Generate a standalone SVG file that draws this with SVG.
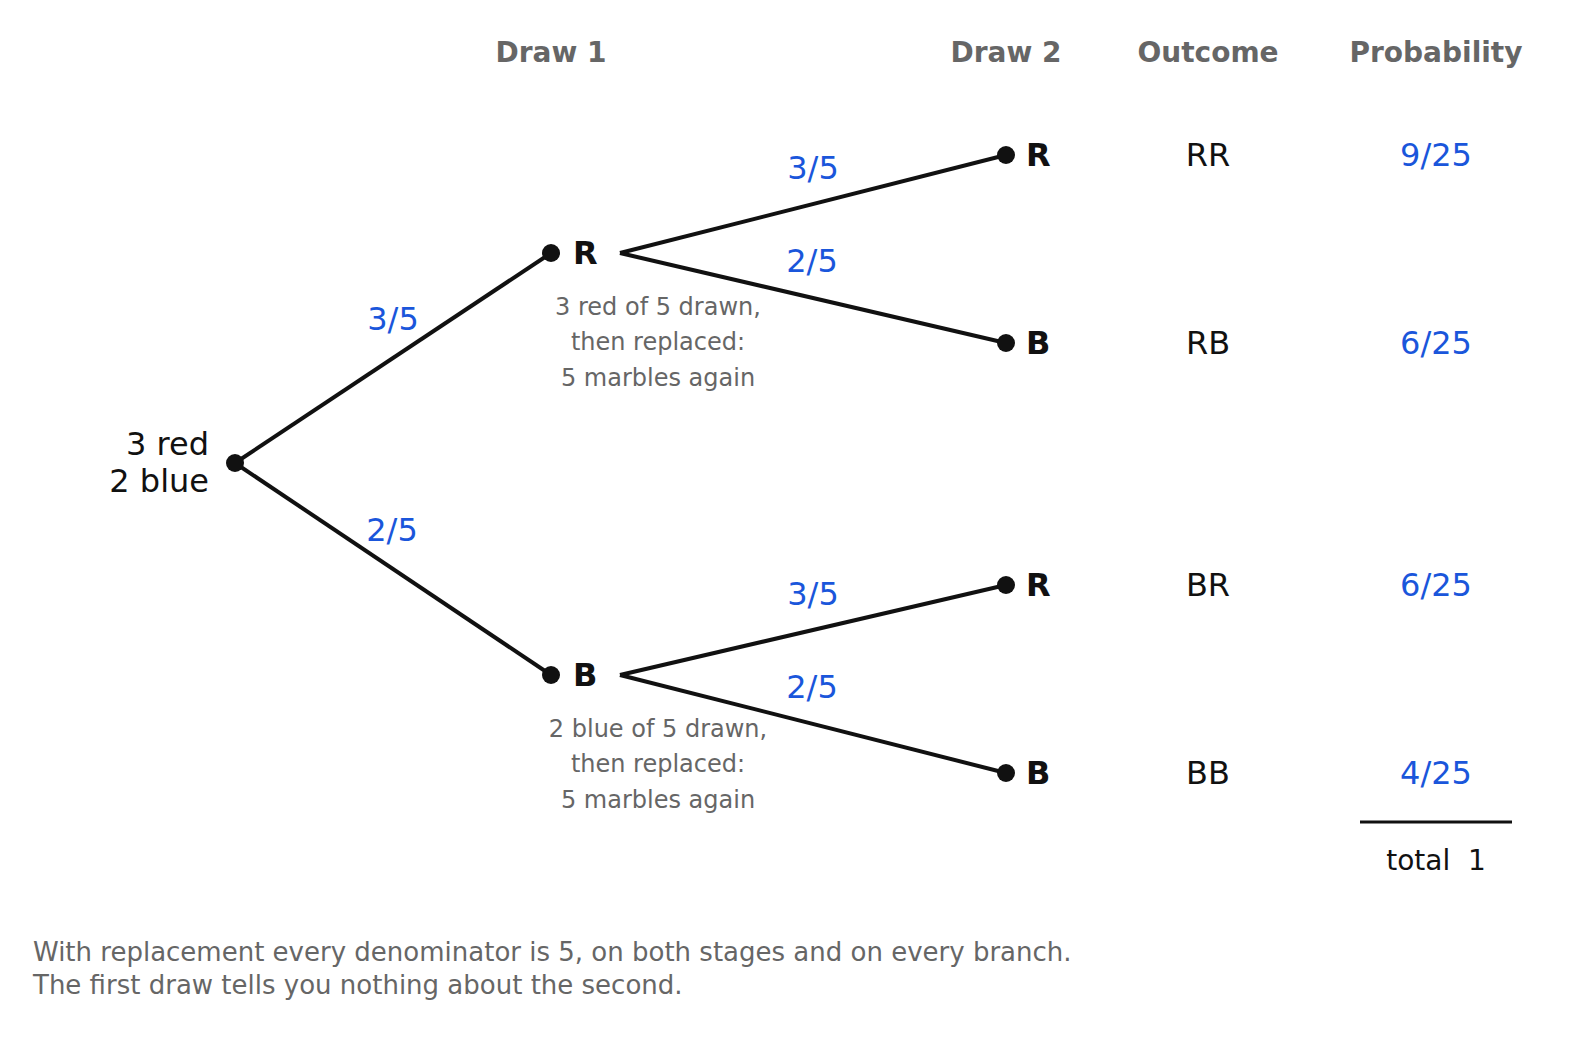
<svg xmlns="http://www.w3.org/2000/svg" width="1589" height="1056" viewBox="0 0 1589 1056">
<style>
text{font-family:"DejaVu Sans",sans-serif}
.h{font-size:28px;font-weight:bold;fill:#666;text-anchor:middle}
.p{font-size:32px;fill:#1a56db;text-anchor:middle}
.n{font-size:32px;font-weight:bold;fill:#111}
.g{font-size:24px;fill:#666;text-anchor:middle}
.o{font-size:32px;fill:#111;text-anchor:middle}
.e{stroke:#111;stroke-width:4;fill:none}
</style>
<rect width="1589" height="1056" fill="#fff"/>
<g id="headers">
<text class="h" x="551" y="62">Draw 1</text>
<text class="h" x="1006" y="62">Draw 2</text>
<text class="h" x="1208" y="62">Outcome</text>
<text class="h" x="1436" y="62">Probability</text>
</g>
<g id="connectors">
<line class="e" x1="235" y1="463" x2="551" y2="253"/>
<line class="e" x1="235" y1="463" x2="551" y2="675"/>
<line class="e" x1="620" y1="253" x2="1006" y2="155"/>
<line class="e" x1="620" y1="253" x2="1006" y2="343"/>
<line class="e" x1="620" y1="675" x2="1006" y2="585"/>
<line class="e" x1="620" y1="675" x2="1006" y2="773"/>
<text class="p" x="393" y="330">3/5</text>
<text class="p" x="392" y="541">2/5</text>
<text class="p" x="813" y="179">3/5</text>
<text class="p" x="812" y="272">2/5</text>
<text class="p" x="813" y="605">3/5</text>
<text class="p" x="812" y="698">2/5</text>
</g>
<g id="root">
<circle cx="235" cy="463" r="9" fill="#111"/>
<text class="o" x="209" y="455" style="text-anchor:end">3 red</text>
<text class="o" x="209" y="492" style="text-anchor:end">2 blue</text>
</g>
<g id="nR">
<circle cx="551" cy="253" r="9" fill="#111"/>
<text class="n" x="573" y="264">R</text>
<text class="g" x="658" y="315">3 red of 5 drawn,</text>
<text class="g" x="658" y="350">then replaced:</text>
<text class="g" x="658" y="386">5 marbles again</text>
</g>
<g id="nB">
<circle cx="551" cy="675" r="9" fill="#111"/>
<text class="n" x="573" y="686">B</text>
<text class="g" x="658" y="737">2 blue of 5 drawn,</text>
<text class="g" x="658" y="772">then replaced:</text>
<text class="g" x="658" y="808">5 marbles again</text>
</g>
<g id="RR"><circle cx="1006" cy="155" r="9" fill="#111"/><text class="n" x="1026" y="166">R</text><text class="o" x="1208" y="166">RR</text><text class="p" x="1436" y="166">9/25</text></g>
<g id="RB"><circle cx="1006" cy="343" r="9" fill="#111"/><text class="n" x="1026" y="354">B</text><text class="o" x="1208" y="354">RB</text><text class="p" x="1436" y="354">6/25</text></g>
<g id="BR"><circle cx="1006" cy="585" r="9" fill="#111"/><text class="n" x="1026" y="596">R</text><text class="o" x="1208" y="596">BR</text><text class="p" x="1436" y="596">6/25</text></g>
<g id="BB"><circle cx="1006" cy="773" r="9" fill="#111"/><text class="n" x="1026" y="784">B</text><text class="o" x="1208" y="784">BB</text><text class="p" x="1436" y="784">4/25</text></g>
<g id="total">
<line x1="1360" y1="822" x2="1512" y2="822" stroke="#111" stroke-width="3"/>
<text x="1436" y="870" style="font-size:28px;fill:#111;text-anchor:middle;white-space:pre" xml:space="preserve">total  1</text>
</g>
<g id="footer">
<text x="33" y="961" style="font-size:26px;fill:#666">With replacement every denominator is 5, on both stages and on every branch.</text>
<text x="33" y="994" style="font-size:26px;fill:#666">The first draw tells you nothing about the second.</text>
</g>
</svg>
